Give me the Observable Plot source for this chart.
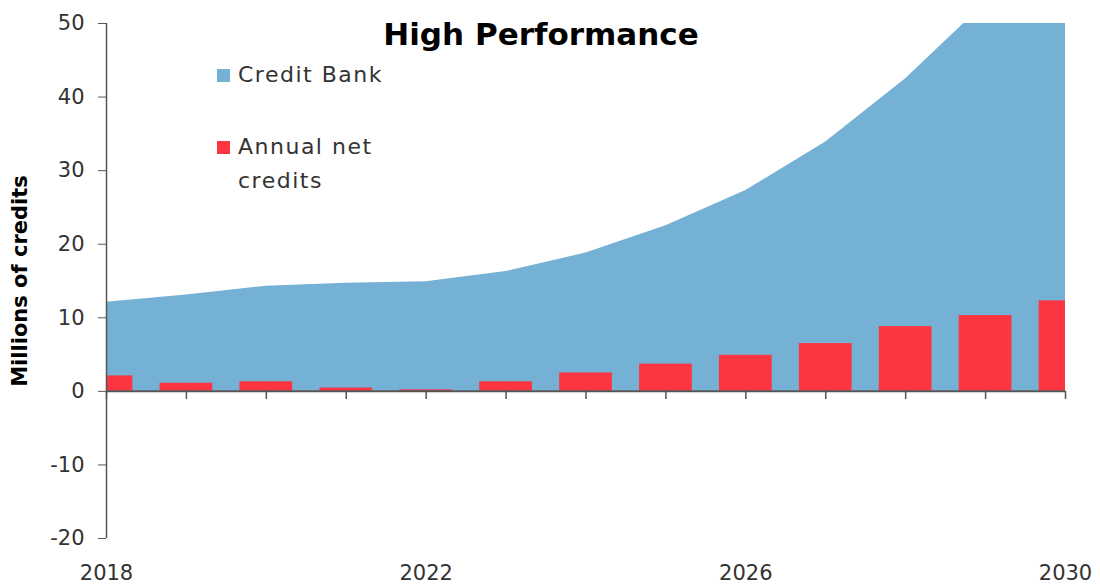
<!DOCTYPE html>
<html>
<head>
<meta charset="utf-8">
<script src="https://cdn.jsdelivr.net/npm/d3@7"></script>
<script src="https://cdn.jsdelivr.net/npm/@observablehq/plot@0.6"></script>
<style>
  html, body { margin: 0; padding: 0; background: #fff; }
  #wrap { position: relative; width: 1100px; height: 588px; font-family: "DejaVu Sans", sans-serif; }
  .leg { position: absolute; left: 217px; font-size: 22px; color: #333; line-height: 34px; letter-spacing: 1.5px; }
  .sw { position: absolute; left: 0; width: 13px; height: 13px; }
  .lt { position: absolute; left: 21px; white-space: nowrap; }
</style>
</head>
<body>
<div id="wrap"></div>
<script>
const years = [2018, 2019, 2020, 2021, 2022, 2023, 2024, 2025, 2026, 2027, 2028, 2029, 2030];
const creditBank = [12.1, 13.1, 14.3, 14.7, 14.9, 16.3, 18.8, 22.5, 27.3, 33.9, 42.5, 52.8, 65.1];
const annualNet = [2.1, 1.1, 1.3, 0.45, 0.2, 1.3, 2.5, 3.7, 4.9, 6.5, 8.8, 10.3, 12.3];
const xTickLabels = [2018, 2022, 2026, 2030];
const yTicks = [-20, -10, 0, 10, 20, 30, 40, 50];
const seriesNames = ["Credit Bank", "Annual net credits"];
const title = "High Performance";
const yLabel = "Millions of credits";

const blue = "#75b0d5";
const red = "#fc3641";
const axisColor = "#555";

const data = years.map((y, i) => ({year: y, bank: creditBank[i], net: annualNet[i]}));

const chart = Plot.plot({
  width: 1100,
  height: 588,
  marginLeft: 106,
  marginRight: 35,
  marginTop: 23,
  marginBottom: 50,
  style: {fontFamily: "DejaVu Sans, sans-serif", background: "#fff", color: "#333"},
  x: {domain: [2018, 2030]},
  y: {domain: [-20, 50]},
  marks: [
    Plot.areaY(data, {x: "year", y: "bank", fill: blue, curve: "linear", clip: true}),
    Plot.rectY(data, {x1: d => d.year - 0.33, x2: d => d.year + 0.33, y: "net", fill: red, clip: true}),
    Plot.ruleY([0], {stroke: axisColor, strokeWidth: 2}),
    Plot.ruleX(years, {x: d => d, y1: 0, y2: -1.1, stroke: axisColor, strokeWidth: 1.5}),
    Plot.ruleX([2018], {stroke: axisColor, strokeWidth: 1.5}),
    Plot.axisY({ticks: yTicks, tickSize: 8, tickPadding: 14, fontSize: 21, label: null, stroke: axisColor, tickFormat: d => String(d)}),
    Plot.axisX({ticks: xTickLabels, tickSize: 0, tickPadding: 27, fontSize: 21, label: null, tickFormat: d => String(d)}),
    Plot.text([title], {frameAnchor: "top", dx: -45, dy: 12, fontSize: 31, fontWeight: "bold", fill: "#000", lineAnchor: "middle"}),
    Plot.text([yLabel], {frameAnchor: "left", textAnchor: "middle", rotate: -90, dx: -86, fontSize: 21, fontWeight: "bold", fill: "#000"})
  ]
});

const wrap = document.getElementById("wrap");
wrap.appendChild(chart);

const legendItems = [
  {name: seriesNames[0], color: blue, top: 58, text: seriesNames[0]},
  {name: seriesNames[1], color: red, top: 130, text: "Annual net<br>credits"}
];
legendItems.forEach(it => {
  const d = document.createElement("div");
  d.className = "leg";
  d.style.top = it.top + "px";
  d.innerHTML = `<div class="sw" style="top:11px;background:${it.color}"></div><div class="lt">${it.text}</div>`;
  wrap.appendChild(d);
});
</script>
</body>
</html>
